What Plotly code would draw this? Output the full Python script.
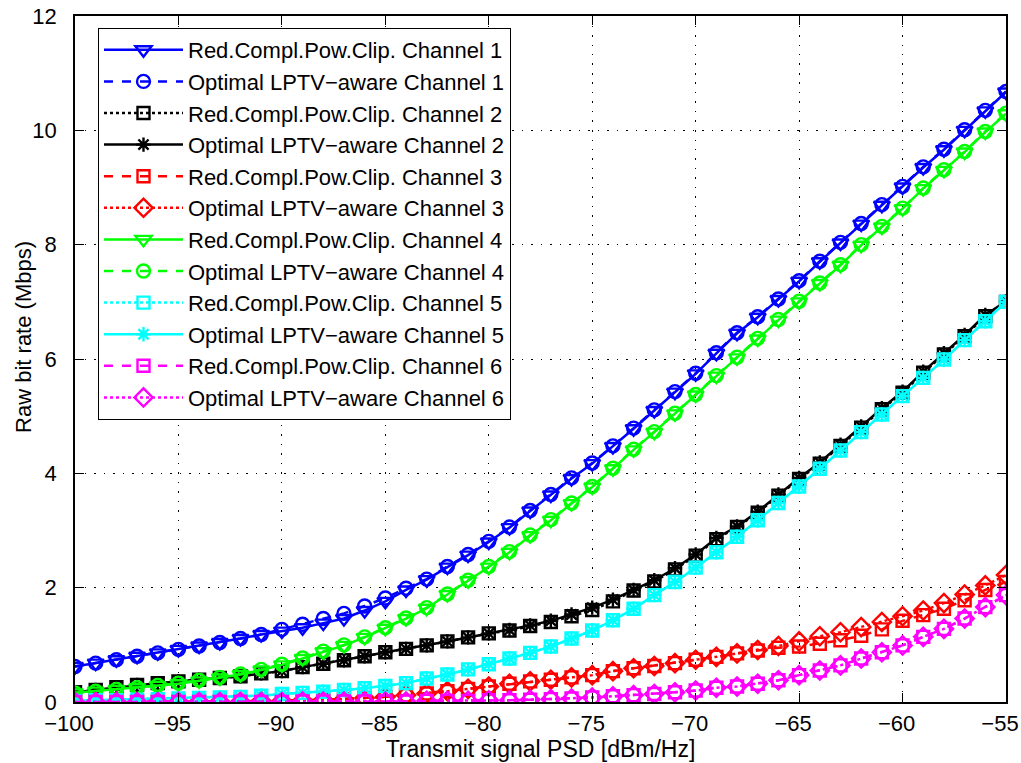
import plotly.graph_objects as go

# Transmit PSD grid (dBm/Hz)
psd = list(range(-100, -54))

# Raw bit rate (Mbps)
ch1_rcpc = [0.62, 0.68, 0.74, 0.80, 0.86, 0.92, 0.98, 1.04, 1.11, 1.18, 1.24, 1.30, 1.38, 1.46, 1.60, 1.76,
            1.96, 2.14, 2.36, 2.57, 2.80, 3.05, 3.34, 3.62, 3.91, 4.17, 4.47, 4.78, 5.10, 5.42, 5.74,
            6.10, 6.45, 6.73, 7.04, 7.36, 7.70, 8.03, 8.36, 8.69, 9.01, 9.35, 9.66, 10.00, 10.34, 10.67]
ch1_opt = [0.62, 0.68, 0.74, 0.80, 0.86, 0.92, 0.98, 1.04, 1.11, 1.18, 1.27, 1.36, 1.46, 1.55, 1.68, 1.82,
           1.99, 2.15, 2.37, 2.58, 2.81, 3.06, 3.35, 3.63, 3.92, 4.18, 4.48, 4.79, 5.11, 5.43, 5.75,
           6.11, 6.46, 6.74, 7.05, 7.37, 7.71, 8.04, 8.37, 8.70, 9.02, 9.36, 9.67, 10.01, 10.35, 10.68]

ch2_rcpc = [0.17, 0.21, 0.26, 0.30, 0.33, 0.36, 0.39, 0.42, 0.45, 0.50, 0.54, 0.61, 0.67, 0.73, 0.80, 0.87,
            0.93, 0.99, 1.06, 1.13, 1.20, 1.25, 1.33, 1.40, 1.50, 1.61, 1.76, 1.95, 2.11, 2.32, 2.56,
            2.85, 3.06, 3.31, 3.61, 3.90, 4.17, 4.48, 4.80, 5.12, 5.41, 5.76, 6.08, 6.40, 6.75, 7.00]
ch2_opt = [0.17, 0.21, 0.26, 0.30, 0.33, 0.36, 0.39, 0.42, 0.45, 0.50, 0.54, 0.61, 0.67, 0.73, 0.80, 0.87,
           0.93, 0.99, 1.06, 1.13, 1.20, 1.26, 1.34, 1.42, 1.53, 1.65, 1.79, 1.96, 2.13, 2.34, 2.58,
           2.87, 3.07, 3.33, 3.63, 3.92, 4.19, 4.50, 4.82, 5.14, 5.43, 5.78, 6.10, 6.42, 6.77, 7.01]

ch3_rcpc = [0.00, 0.00, 0.00, 0.00, 0.00, 0.01, 0.01, 0.01, 0.01, 0.02, 0.02, 0.03, 0.04, 0.05, 0.07, 0.09,
            0.12, 0.15, 0.19, 0.23, 0.27, 0.32, 0.36, 0.39, 0.43, 0.47, 0.54, 0.59, 0.63, 0.68, 0.74,
            0.79, 0.85, 0.90, 0.95, 0.97, 1.02, 1.08, 1.16, 1.27, 1.42, 1.52, 1.63, 1.78, 1.96, 2.10]
ch3_opt = [0.00, 0.00, 0.00, 0.00, 0.00, 0.01, 0.01, 0.01, 0.01, 0.02, 0.02, 0.03, 0.04, 0.05, 0.07, 0.09,
           0.12, 0.15, 0.19, 0.23, 0.27, 0.32, 0.36, 0.39, 0.43, 0.47, 0.54, 0.59, 0.63, 0.68, 0.74,
           0.79, 0.85, 0.91, 0.98, 1.06, 1.15, 1.22, 1.31, 1.40, 1.50, 1.60, 1.73, 1.88, 2.04, 2.22]

ch4_rcpc = [0.16, 0.19, 0.22, 0.25, 0.29, 0.32, 0.37, 0.42, 0.48, 0.56, 0.65, 0.76, 0.88, 0.99, 1.13, 1.29,
            1.46, 1.64, 1.88, 2.12, 2.36, 2.62, 2.91, 3.18, 3.47, 3.76, 4.08, 4.41, 4.72, 5.04, 5.37,
            5.70, 6.02, 6.35, 6.68, 7.00, 7.32, 7.64, 7.99, 8.31, 8.63, 8.98, 9.30, 9.62, 9.97, 10.29]
ch4_opt = [0.16, 0.19, 0.22, 0.25, 0.29, 0.33, 0.38, 0.43, 0.49, 0.57, 0.66, 0.77, 0.89, 1.00, 1.14, 1.30,
           1.47, 1.65, 1.89, 2.13, 2.37, 2.63, 2.92, 3.19, 3.48, 3.77, 4.09, 4.42, 4.73, 5.05, 5.38,
           5.71, 6.03, 6.36, 6.69, 7.01, 7.33, 7.65, 8.00, 8.32, 8.64, 8.99, 9.31, 9.63, 9.98, 10.30]

ch5_rcpc = [0.02, 0.03, 0.03, 0.04, 0.05, 0.06, 0.07, 0.08, 0.09, 0.11, 0.14, 0.16, 0.18, 0.21, 0.24, 0.28,
            0.33, 0.41, 0.48, 0.57, 0.66, 0.76, 0.86, 0.97, 1.11, 1.25, 1.43, 1.63, 1.87, 2.10, 2.35,
            2.62, 2.89, 3.18, 3.48, 3.77, 4.08, 4.40, 4.72, 5.03, 5.35, 5.67, 5.99, 6.33, 6.66, 7.00]
ch5_opt = [0.02, 0.03, 0.03, 0.04, 0.05, 0.06, 0.07, 0.08, 0.09, 0.11, 0.14, 0.16, 0.18, 0.21, 0.24, 0.28,
           0.33, 0.41, 0.48, 0.57, 0.66, 0.76, 0.86, 0.97, 1.11, 1.25, 1.43, 1.63, 1.87, 2.10, 2.35,
           2.62, 2.89, 3.18, 3.48, 3.77, 4.08, 4.40, 4.72, 5.03, 5.35, 5.67, 5.99, 6.33, 6.66, 7.00]

ch6_rcpc = [0.00, 0.00, 0.00, 0.00, 0.00, 0.00, 0.00, 0.00, 0.00, 0.00, 0.00, 0.01, 0.01, 0.01, 0.01, 0.01,
            0.01, 0.02, 0.02, 0.02, 0.03, 0.03, 0.04, 0.05, 0.06, 0.08, 0.10, 0.12, 0.14, 0.17, 0.20,
            0.25, 0.27, 0.32, 0.38, 0.47, 0.55, 0.64, 0.76, 0.87, 0.99, 1.14, 1.28, 1.46, 1.66, 1.87]
ch6_opt = [0.00, 0.00, 0.00, 0.00, 0.00, 0.00, 0.00, 0.00, 0.00, 0.00, 0.00, 0.01, 0.01, 0.01, 0.01, 0.01,
           0.01, 0.02, 0.02, 0.02, 0.03, 0.03, 0.04, 0.05, 0.06, 0.08, 0.10, 0.12, 0.14, 0.17, 0.20,
           0.25, 0.27, 0.32, 0.38, 0.47, 0.55, 0.64, 0.76, 0.87, 0.99, 1.14, 1.28, 1.46, 1.66, 1.87]

# name, values, colour, dash, marker
series = [
    ('Red.Compl.Pow.Clip. Channel 1', ch1_rcpc, '#0000ff', 'solid', 'triangle-down-open'),
    ('Optimal LPTV\u2212aware Channel 1', ch1_opt, '#0000ff', 'dash', 'circle-open'),
    ('Red.Compl.Pow.Clip. Channel 2', ch2_rcpc, '#000000', 'dot', 'square-open'),
    ('Optimal LPTV\u2212aware Channel 2', ch2_opt, '#000000', 'solid', 'asterisk-open'),
    ('Red.Compl.Pow.Clip. Channel 3', ch3_rcpc, '#ff0000', 'dash', 'square-open'),
    ('Optimal LPTV\u2212aware Channel 3', ch3_opt, '#ff0000', 'dot', 'diamond-open'),
    ('Red.Compl.Pow.Clip. Channel 4', ch4_rcpc, '#00ff00', 'solid', 'triangle-down-open'),
    ('Optimal LPTV\u2212aware Channel 4', ch4_opt, '#00ff00', 'dash', 'circle-open'),
    ('Red.Compl.Pow.Clip. Channel 5', ch5_rcpc, '#00ffff', 'dot', 'square-open'),
    ('Optimal LPTV\u2212aware Channel 5', ch5_opt, '#00ffff', 'solid', 'asterisk-open'),
    ('Red.Compl.Pow.Clip. Channel 6', ch6_rcpc, '#ff00ff', 'dash', 'square-open'),
    ('Optimal LPTV\u2212aware Channel 6', ch6_opt, '#ff00ff', 'dot', 'diamond-open'),
]
marker_size = {'triangle-down-open': 14, 'circle-open': 13, 'square-open': 12,
               'asterisk-open': 12, 'diamond-open': 14}

fig = go.Figure()
for name, vals, col, dash, sym in series:
    fig.add_trace(go.Scatter(x=psd, y=vals, name=name, mode='lines+markers',
                             line=dict(color=col, width=2.5, dash=dash),
                             marker=dict(symbol=sym, size=marker_size[sym], color=col,
                                         line=dict(color=col, width=2.4))))

font = dict(family='Liberation Sans, Arial, sans-serif', size=22, color='black')
title_font = dict(family='Liberation Sans, Arial, sans-serif', size=23, color='black')
axis_style = dict(showline=True, linecolor='black', linewidth=1.5, mirror='ticks',
                  ticks='inside', ticklen=9, tickwidth=1.2, tickcolor='black',
                  showgrid=True, gridcolor='black', griddash='1.5px,8px', gridwidth=1.2,
                  zeroline=False, tickfont=font, automargin=False,
                  ticklabeloverflow='allow')

fig.update_layout(
    width=1021, height=763,
    margin=dict(l=75, r=15, t=16, b=61),
    paper_bgcolor='white', plot_bgcolor='white',
    font=font,
    xaxis=dict(range=[-100, -55], dtick=5, tick0=-100,
               title=dict(text='Transmit signal PSD [dBm/Hz]', font=title_font, standoff=1),
               ticklabelstandoff=1, ticklabelshift=-6, **axis_style),
    yaxis=dict(range=[0, 12], dtick=2, tick0=0, ticklabelstandoff=12, **axis_style),
    legend=dict(x=0.0247, y=0.9825, xanchor='left', yanchor='top',
                bgcolor='white', bordercolor='black', borderwidth=1,
                font=font, itemwidth=79, tracegroupgap=0),
    showlegend=True,
)
# y axis label, placed like the original (slightly above the axis centre)
fig.add_annotation(text='Raw bit rate (Mbps)', xref='paper', yref='paper',
                   x=-0.056, y=0.532, xanchor='center', yanchor='middle',
                   textangle=-90, showarrow=False, font=font)

# drop the page's default body margin so the figure sits at the window's corner
fig.write_html("out.html", config={'displayModeBar': False},
               post_script="document.body.style.margin='0';")
